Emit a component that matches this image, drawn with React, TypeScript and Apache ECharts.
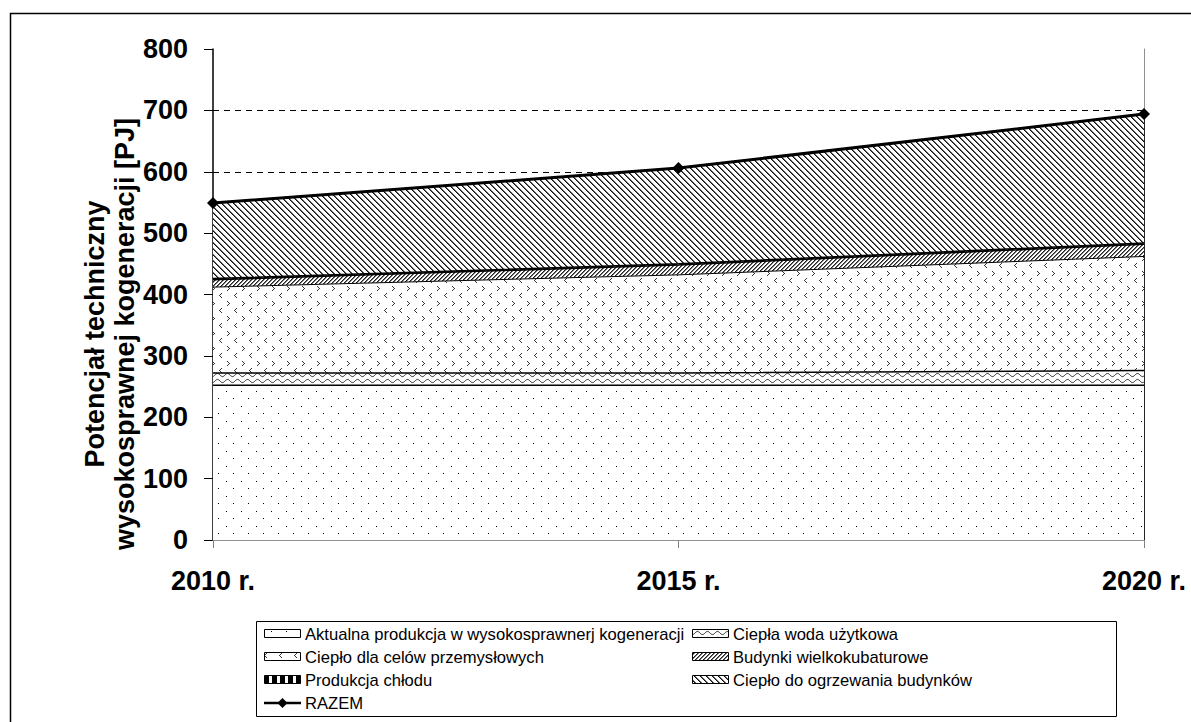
import React, { useEffect, useRef } from "react";
import * as echarts from "echarts";

const categories = ["2010 r.", "2015 r.", "2020 r."];
const aktualna = [252, 252, 252];
const cieplaWoda = [20, 20, 24];
const przemysl = [140, 160, 186];
const budynki = [12, 16, 20];
const chlod = [2, 2, 2];
const ogrzewanie = [123, 156, 210];
const razem = [549, 606, 694];

const seriesNames = [
  "Aktualna produkcja w wysokosprawnerj kogeneracji",
  "Ciepła woda użytkowa",
  "Ciepło dla celów przemysłowych",
  "Budynki wielkokubaturowe",
  "Produkcja chłodu",
  "Ciepło do ogrzewania budynków",
  "RAZEM",
];
const yAxisTitle = "Potencjał techniczny\nwysokosprawnej kogeneracji [PJ]";

const FONT = '"Liberation Sans", Arial, sans-serif';

function tile(w: number, h: number, draw: (ctx: CanvasRenderingContext2D) => void) {
  const c = document.createElement("canvas");
  c.width = w;
  c.height = h;
  const ctx = c.getContext("2d")!;
  ctx.fillStyle = "#fff";
  ctx.fillRect(0, 0, w, h);
  draw(ctx);
  return { image: c, repeat: "repeat", imageWidth: w, imageHeight: h } as any;
}
function px(ctx: CanvasRenderingContext2D, x: number, y: number, c = "#000") {
  ctx.fillStyle = c;
  ctx.fillRect(x, y, 1, 1);
}

function makePatterns() {
  const dots = tile(15, 15, (ctx) => {
    px(ctx, 1, 1, "#000");
    px(ctx, 8, 8, "#000");
  });
  const wave = tile(10, 6, (ctx) => {
    ctx.strokeStyle = "#222";
    ctx.lineWidth = 1;
    ctx.beginPath();
    for (let x = -1; x <= 11; x += 0.5) {
      const y = 3 + 1.6 * Math.sin((2 * Math.PI * x) / 10);
      if (x === -1) ctx.moveTo(x, y);
      else ctx.lineTo(x, y);
    }
    ctx.stroke();
  });
  const chevrons = tile(15, 15, (ctx) => {
    const c = "#333";
    const gt = [[0, 0], [1, 1], [2, 2], [1, 3], [0, 4]];
    gt.forEach(([x, y]) => px(ctx, 2 + x, 1 + y, c));
    gt.forEach(([x, y]) => px(ctx, 11 - x, 8 + y, c));
  });
  const fwd = tile(4, 4, (ctx) => {
    const rows = [[2, 3], [1, 2], [0, 1], [3, 0]];
    rows.forEach((xs, y) => {
      px(ctx, xs[0], y, "#222");
      px(ctx, xs[1], y, "#777");
    });
  });
  const checker = tile(8, 4, (ctx) => {
    ctx.fillStyle = "#000";
    ctx.fillRect(0, 0, 5, 4);
  });
  const back = tile(6, 6, (ctx) => {
    for (let y = 0; y < 6; y++) {
      px(ctx, y % 6, y, "#111");
      px(ctx, (y + 1) % 6, y, "#666");
    }
  });
  return [dots, wave, chevrons, fwd, checker, back];
}

export default function App() {
  const ref = useRef<HTMLDivElement>(null);
  useEffect(() => {
    if (!ref.current) return;
    const chart = echarts.init(ref.current, undefined, { renderer: "svg" });
    const patterns = makePatterns();
    const stackData = [aktualna, cieplaWoda, przemysl, budynki, chlod, ogrzewanie];
    const lineWidths = [1.5, 1.5, 1, 1.5, 1.5, 1.5];

    const stackSeries = stackData.map((d, i) => ({
      name: seriesNames[i],
      type: "line",
      stack: "total",
      data: d,
      symbol: "none",
      z: 10 - i,
      lineStyle: { color: "#000", width: lineWidths[i] },
      areaStyle: { color: patterns[i], opacity: 1 },
      emphasis: { disabled: true },
    }));

    const lastCat = categories[categories.length - 1];
    const lastVal = razem[razem.length - 1];

    const legendGraphics: any[] = [];
    const boxLeft = 256, boxTop = 621, boxW = 860, boxH = 95;
    legendGraphics.push({
      type: "rect",
      shape: { x: boxLeft + 0.5, y: boxTop + 0.5, width: boxW, height: boxH },
      style: { fill: "#fff", stroke: "#000", lineWidth: 1 },
      z: 1,
    });
    seriesNames.forEach((name, i) => {
      const col = i % 2;
      const row = Math.floor(i / 2);
      const ix = col === 0 ? 264 : 692;
      const cy = 634 + row * 23;
      if (i < 6) {
        legendGraphics.push({
          type: "rect",
          shape: { x: ix + 0.5, y: cy - 4.5, width: 36, height: 8 },
          style: { fill: patterns[i], stroke: "#000", lineWidth: 1 },
          z: 2,
        });
      } else {
        legendGraphics.push({
          type: "line",
          shape: { x1: ix, y1: cy, x2: ix + 37, y2: cy },
          style: { stroke: "#000", lineWidth: 2.5 },
          z: 2,
        });
        legendGraphics.push({
          type: "polygon",
          shape: { points: [[ix + 18.5, cy - 5], [ix + 23.5, cy], [ix + 18.5, cy + 5], [ix + 13.5, cy]] },
          style: { fill: "#000" },
          z: 3,
        });
      }
      legendGraphics.push({
        type: "text",
        x: ix + 41,
        y: cy,
        style: {
          text: name,
          font: `16.6px ${FONT}`,
          fill: "#000",
          textVerticalAlign: "middle",
          textAlign: "left",
        },
        z: 2,
      });
    });

    chart.setOption({
      animation: false,
      backgroundColor: "#fff",
      grid: { left: 213, right: 47, top: 49, bottom: 182, containLabel: false },
      xAxis: [
        {
          type: "category",
          data: categories,
          boundaryGap: false,
          axisLine: { lineStyle: { color: "#808080", width: 1 } },
          axisTick: { show: true, length: 8, lineStyle: { color: "#808080" } },
          axisLabel: { fontSize: 27, fontWeight: "bold", color: "#000", fontFamily: FONT, margin: 27 },
          splitLine: { show: false },
        },
        {
          type: "category",
          data: categories,
          position: "top",
          boundaryGap: false,
          axisLine: { lineStyle: { color: "#909090", width: 1 } },
          axisTick: { show: false },
          axisLabel: { show: false },
          splitLine: { show: false },
          z: 3,
        },
      ],
      yAxis: [
        {
          type: "value",
          min: 0,
          max: 800,
          interval: 100,
          axisLine: { show: true, lineStyle: { color: "#000", width: 1.5 } },
          axisTick: { show: true, length: 9, lineStyle: { color: "#000" } },
          axisLabel: { fontSize: 27, fontWeight: "bold", color: "#000", fontFamily: FONT, margin: 25 },
          splitLine: {
            show: true,
            showMaxLine: false,
            lineStyle: { color: "#000", type: [6, 5], width: 1 },
          },
        },
        {
          type: "value",
          min: 0,
          max: 800,
          interval: 100,
          position: "right",
          axisLine: { show: true, lineStyle: { color: "#909090", width: 1 } },
          axisTick: { show: false },
          axisLabel: { show: false },
          splitLine: { show: false },
          z: 1,
        },
      ],
      series: [
        ...stackSeries,
        {
          name: seriesNames[6],
          type: "line",
          data: razem,
          symbol: "diamond",
          symbolSize: 12,
          z: 20,
          itemStyle: { color: "#000" },
          lineStyle: { color: "#000", width: 3 },
          emphasis: { disabled: true },
          markLine: {
            silent: true,
            symbol: "none",
            label: { show: false },
            lineStyle: { color: "#000", width: 1.5, type: "solid" },
            data: [[{ coord: [lastCat, 0] }, { coord: [lastCat, lastVal] }]],
          },
        },
      ],
      graphic: [
        {
          type: "rect",
          shape: { x: 10.5, y: 13.5, width: 1300, height: 900 },
          style: { fill: "none", stroke: "#000", lineWidth: 1.5 },
          z: 0,
          silent: true,
        },
        {
          type: "text",
          x: 110,
          y: 334,
          rotation: Math.PI / 2,
          style: {
            text: yAxisTitle,
            font: `bold 27px ${FONT}`,
            fill: "#000",
            textAlign: "center",
            textVerticalAlign: "middle",
            lineHeight: 30,
          },
        },
        ...legendGraphics,
      ],
    });
    return () => chart.dispose();
  }, []);
  return (
    <div
      ref={ref}
      style={{ position: "fixed", left: 0, top: 0, width: 1191, height: 722, background: "#fff" }}
    />
  );
}
